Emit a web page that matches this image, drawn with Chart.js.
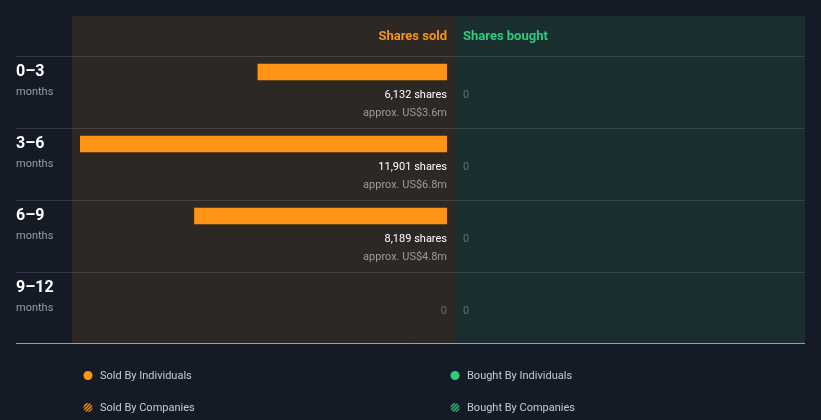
<!DOCTYPE html>
<html><head><meta charset="utf-8">
<script src="https://cdn.jsdelivr.net/npm/chart.js@4"></script>
<style>html,body{margin:0;padding:0;background:#151b26;}canvas{display:block;}</style>
</head><body>
<canvas id="c" width="821" height="420"></canvas>
<script>
const periods = ['0–3', '3–6', '6–9', '9–12'];
const periodUnit = 'months';
const soldShares = [6132, 11901, 8189, 0];
const soldValue = ['US$3.6m', 'US$6.8m', 'US$4.8m', null];
const boughtShares = [0, 0, 0, 0];
const legendItems = ['Sold By Individuals', 'Bought By Individuals', 'Sold By Companies', 'Bought By Companies'];

const ORANGE = '#ff9416';
const GREEN = '#2ecc7e';
const FONT = 'Roboto, "Open Sans", sans-serif';

function fmt(n){ return n.toLocaleString('en-US'); }

const deco = {
  id: 'deco',
  beforeDraw(chart){
    const ctx = chart.ctx, y = chart.scales.y, x = chart.scales.x;
    const base = x.getPixelForValue(0);
    const rowH = y.getPixelForValue(1) - y.getPixelForValue(0);
    const firstRowTop = y.getPixelForValue(0) - 16;
    const top = firstRowTop - 40, bottom = firstRowTop + rowH * periods.length;
    ctx.save();
    ctx.fillStyle = '#151b26'; ctx.fillRect(0,0,chart.width,chart.height);
    ctx.fillStyle = '#2d2823'; ctx.fillRect(72, top, base + 8 - 72, bottom - top);
    ctx.fillStyle = '#1a2d2f'; ctx.fillRect(base + 8, top, 805 - base - 8, bottom - top);
    ctx.strokeStyle = 'rgba(255,255,255,0.12)'; ctx.lineWidth = 1;
    for (let i = 0; i < periods.length; i++){
      const ly = Math.round(firstRowTop + i*rowH) + 0.5;
      ctx.beginPath(); ctx.moveTo(16, ly); ctx.lineTo(805, ly); ctx.stroke();
    }
    ctx.strokeStyle = 'rgba(255,255,255,0.55)';
    ctx.beginPath(); ctx.moveTo(16, bottom - 0.5); ctx.lineTo(805, bottom - 0.5); ctx.stroke();
    ctx.font = 'bold 13px ' + FONT; ctx.textBaseline = 'middle';
    ctx.fillStyle = '#f7931e'; ctx.textAlign = 'right'; ctx.fillText('Shares sold', base, top + 20.5);
    ctx.fillStyle = GREEN; ctx.textAlign = 'left'; ctx.fillText('Shares bought', base + 16, top + 20.5);
    periods.forEach((p, i) => {
      const rt = firstRowTop + i*rowH;
      ctx.textAlign = 'left';
      ctx.fillStyle = '#ffffff'; ctx.font = 'bold 16px ' + FONT; ctx.fillText(p, 16, rt + 15.5);
      ctx.fillStyle = '#9a9ca0'; ctx.font = '11px ' + FONT; ctx.fillText(periodUnit, 16, rt + 36.5);
    });
    ctx.restore();
  },
  afterDatasetsDraw(chart){
    const ctx = chart.ctx, y = chart.scales.y, x = chart.scales.x;
    const base = x.getPixelForValue(0);
    ctx.save(); ctx.textBaseline = 'middle';
    periods.forEach((p, i) => {
      const cy = y.getPixelForValue(i);
      ctx.textAlign = 'right';
      if (soldShares[i] > 0){
        ctx.fillStyle = '#ffffff'; ctx.font = '11px ' + FONT;
        ctx.fillText(fmt(soldShares[i]) + ' shares', base, cy + 23);
        ctx.fillStyle = '#9a9ca0'; ctx.font = '11px ' + FONT;
        ctx.fillText('approx. ' + soldValue[i], base, cy + 41.5);
      } else {
        ctx.fillStyle = '#6b6b6b'; ctx.font = '11px ' + FONT;
        ctx.fillText(fmt(soldShares[i]), base, cy + 23);
      }
      ctx.textAlign = 'left'; ctx.fillStyle = '#5f7170'; ctx.font = '11px ' + FONT;
      ctx.fillText(fmt(boughtShares[i]), base + 16, cy + 23);
    });
    const pos = [[88,376],[455,376],[88,408],[455,408]];
    const cols = [ORANGE, GREEN, ORANGE, GREEN];
    legendItems.forEach((t, k) => {
      const [lx, ly] = pos[k];
      ctx.beginPath(); ctx.arc(lx, ly - 0.5, 4.5, 0, Math.PI*2);
      if (k < 2){ ctx.fillStyle = cols[k]; ctx.fill(); }
      else {
        ctx.fillStyle = k === 2 ? '#4a3214' : '#173d2c'; ctx.fill();
        ctx.save(); ctx.clip();
        ctx.strokeStyle = cols[k]; ctx.lineWidth = 1.2;
        for (let d = -9; d <= 9; d += 3.5){
          ctx.beginPath(); ctx.moveTo(lx + d - 6, ly + 6); ctx.lineTo(lx + d + 6, ly - 6); ctx.stroke();
        }
        ctx.restore();
      }
      ctx.fillStyle = '#c9cacc'; ctx.font = '11px ' + FONT; ctx.textAlign = 'left';
      ctx.fillText(t, lx + 12, ly);
    });
    ctx.restore();
  }
};

new Chart(document.getElementById('c'), {
  type: 'bar',
  data: {
    labels: periods,
    datasets: [{
      label: 'Sold By Individuals',
      data: soldShares.map(v => v > 0 ? v : null),
      backgroundColor: ORANGE,
      borderWidth: 0,
      barThickness: 16
    }]
  },
  options: {
    indexAxis: 'y',
    responsive: false,
    animation: false,
    devicePixelRatio: 1,
    layout: { padding: { left: 80, right: 821 - 447, top: 36, bottom: 96 } },
    plugins: { legend: { display: false }, tooltip: { enabled: false } },
    scales: {
      x: { reverse: true, min: 0, max: Math.max(...soldShares), display: false, grid: { display: false } },
      y: { display: false, grid: { display: false } }
    }
  },
  plugins: [deco]
});
</script>
</body></html>
